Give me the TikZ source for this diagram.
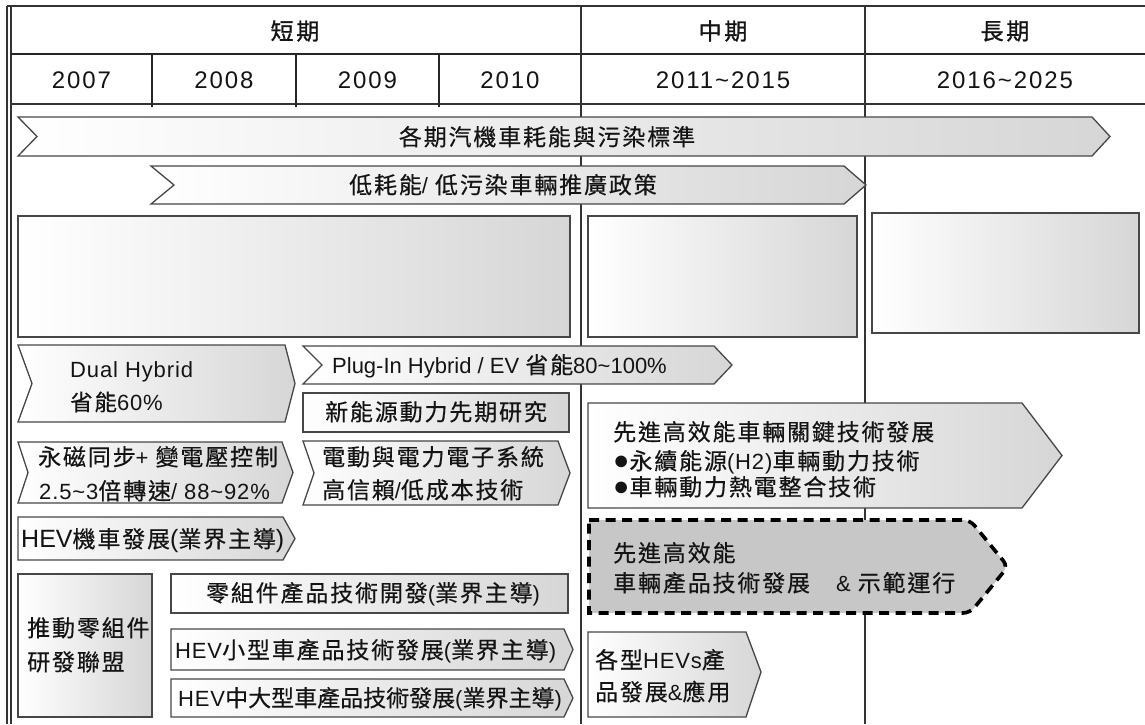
\documentclass[tikz,border=0pt]{standalone}
\usepackage{fontspec}
\newfontfamily\cjk{Noto Sans CJK TC}[LetterSpace=8,FakeBold=0.4]
\newfontfamily\cjktight{Noto Sans CJK TC}[LetterSpace=0,FakeBold=0.4]
\newfontfamily\cjkhd{Noto Sans CJK TC}[FakeBold=1.2,LetterSpace=12]
\newfontfamily\latA{Liberation Sans}
\newfontfamily\latB{Liberation Sans}[LetterSpace=4]
\newfontfamily\latyr{Liberation Sans}[LetterSpace=8]
\newcommand\enfont{\latB\fontsize{22}{26}\selectfont}
\newcommand\en[1]{{\enfont #1}}
\newcommand\bul{{\latA\fontsize{27}{28}\selectfont ●}}
\newcommand\tl{\char"7E\relax}
\begin{document}
\begin{tikzpicture}[x=1pt,y=-1pt,
  frame/.style={draw=black!80,line width=1.3pt},
  thickrule/.style={draw=black!85,line width=2.2pt},
  gbox/.style={draw=black!72,line width=1.3pt,left color=white,right color=black!16},
  dashbox/.style={draw=black,line width=3.6pt,dash pattern=on 10pt off 6.5pt,fill=black!22},
  txt/.style={inner sep=0pt,text=black!92,font=\cjk\fontsize{23}{26}\selectfont,text height=20pt,text depth=3pt},
  bigen/.style={font=\cjk\fontsize{23}{26}\selectfont\renewcommand\enfont{\latA\fontsize{25}{28}\selectfont}},
  plugen/.style={font=\cjk\fontsize{23}{26}\selectfont\renewcommand\enfont{\latA\fontsize{22}{26}\selectfont}},
  dualen/.style={font=\cjk\fontsize{22.5}{26}\selectfont},
  tighttxt/.style={font=\cjktight\fontsize{23}{26}\selectfont},
  head/.style={inner sep=0pt,text=black!92,font=\cjkhd\fontsize{23}{26}\selectfont},
  year/.style={inner sep=0pt,text=black!92,font=\latyr\fontsize{24}{28}\selectfont}]
\useasboundingbox (0,0) rectangle (1145,724);
% ---- frame and column rules
\draw[frame] (7,6) -- (7,724);
\draw[frame] (11,6) -- (11,724);
\draw[frame] (7,6) -- (1145,6);
\draw[thickrule] (11,54) -- (1145,54);
\draw[frame] (11,104) -- (1145,104);
\draw[thickrule] (152,54) -- (152,107);
\draw[thickrule] (296,54) -- (296,107);
\draw[thickrule] (439,54) -- (439,107);
\draw[frame,line width=1.2pt] (581,6) -- (581,724);
\draw[frame,line width=1.2pt] (865,6) -- (865,724);
% ---- header texts
\node[head] (hshort) at (295,31) {短期};
\node[head] (hmid) at (723,31) {中期};
\node[head] (hlong) at (1005,31) {長期};
\node[year] (y2007) at (81.5,80) {2007};
\node[year] (y2008) at (224,80) {2008};
\node[year] (y2009) at (367.5,80) {2009};
\node[year] (y2010) at (510,80) {2010};
\node[year] (y2011) at (723,80) {2011\tl2015};
\node[year] (y2016) at (1005,80) {2016\tl2025};
% ---- policy bars
\path[gbox] (18,117) -- (1092,117) -- (1110,136.5) -- (1092,156) -- (18,156) -- (37,136.5) -- cycle;
\node[txt] (tbar1) at (547,137) {各期汽機車耗能與污染標準};
\path[gbox] (151,166) -- (844,166) -- (866,185) -- (844,204) -- (151,204) -- (174,185) -- cycle;
\node[txt] (tbar2) at (503,185) {低耗能\en{/} 低污染車輛推廣政策};
% ---- empty boxes
\path[gbox] (18,216) rectangle (570,337);
\path[gbox] (588,216) rectangle (857,337);
\path[gbox] (872,213) rectangle (1139,333);
% ---- short term items
\path[gbox] (18,345) -- (285,345) -- (295,383.5) -- (285,422) -- (18,422) -- (32,383.5) -- cycle;
\node[txt,dualen,anchor=west] (dual1) at (70,369) {\en{Dual Hybrid}};
\node[txt,dualen,anchor=west] (dual2) at (70,402) {省能\en{60\%}};
\path[gbox] (303,346) -- (714,346) -- (732,365) -- (714,384) -- (303,384) -- (322,365) -- cycle;
\node[txt,plugen,anchor=west] (plug) at (332,365) {\en{Plug-In Hybrid / EV }省能\en{80\tl100\%}};
\path[gbox] (303,393) rectangle (569,432);
\node[txt] (newen) at (436,412) {新能源動力先期研究};
\path[gbox] (18,442) -- (282,442) -- (293,472.5) -- (282,503) -- (18,503) -- (28,472.5) -- cycle;
\node[txt,anchor=west] (pm1) at (38,457) {永磁同步\en{+ }變電壓控制};
\node[txt,anchor=west] (pm2) at (39,491) {\en{2.5\tl3}倍轉速\en{/ 88\tl92\%}};
\path[gbox] (303,441) -- (558,441) -- (570,473) -- (558,505) -- (303,505) -- (314,473) -- cycle;
\node[txt,anchor=west] (el1) at (322,457) {電動與電力電子系統};
\node[txt,anchor=west] (el2) at (322,490) {高信賴\en{/}低成本技術};
\path[gbox] (18,517) -- (283,517) -- (295,538.5) -- (283,560) -- (18,560) -- cycle;
\node[txt,bigen,anchor=west] (moto) at (21,539) {\en{HEV}機車發展\en{(}業界主導\en{)}};
\path[gbox] (18,574) rectangle (152,717);
\node[txt,anchor=west] (all1) at (27,628) {推動零組件};
\node[txt,anchor=west] (all2) at (27,662) {研發聯盟};
\path[gbox] (171,574) rectangle (568,613);
\node[txt] (parts) at (373,593) {零組件產品技術開發\en{(}業界主導\en{)}};
\path[gbox] (171,629) -- (564,629) -- (573,649.5) -- (564,670) -- (171,670) -- cycle;
\node[txt,anchor=west] (small) at (175,650) {\en{HEV}小型車產品技術發展\en{(}業界主導\en{)}};
\path[gbox] (171,679) -- (564,679) -- (573,698) -- (564,717) -- (171,717) -- cycle;
\node[txt,tighttxt,anchor=west] (large) at (178,698) {\en{HEV}中大型車產品技術發展\en{(}業界主導\en{)}};
% ---- mid term items
\path[gbox] (588,403) -- (1022,403) -- (1062,455.5) -- (1022,508) -- (588,508) -- cycle;
\node[txt,anchor=west] (adv1) at (613,432) {先進高效能車輛關鍵技術發展};
\node[txt,anchor=west] (adv2) at (613,461) {\bul 永續能源\en{(H2)}車輛動力技術};
\node[txt,anchor=west] (adv3) at (613,487) {\bul 車輛動力熱電整合技術};
\path[dashbox] (589,520) [rounded corners=7pt] -- (970,520) -- (1008,566.5) -- (970,613) [sharp corners] -- (589,613) -- cycle;
\node[txt,anchor=west] (demo1) at (613,553) {先進高效能};
\node[txt,anchor=west] (demo2) at (613,583) {車輛產品技術發展\hspace{26pt}\en{\& }示範運行};
\path[gbox] (588,632) -- (746,632) -- (761,672) -- (746,717) -- (588,717) -- cycle;
\node[txt,anchor=west] (hevs1) at (595,660) {各型\en{HEVs}產};
\node[txt,anchor=west] (hevs2) at (595,692) {品發展\en{\&}應用};
\end{tikzpicture}
\end{document}
